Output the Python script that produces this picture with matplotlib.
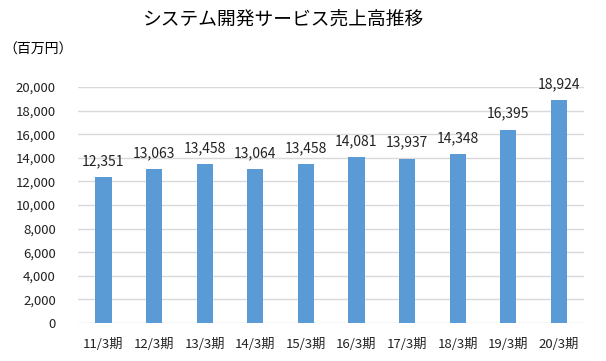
import matplotlib.pyplot as plt

plt.rcParams['font.family'] = ['Noto Sans CJK JP', 'DejaVu Sans']

# データ
labels = ['11/3期', '12/3期', '13/3期', '14/3期', '15/3期',
          '16/3期', '17/3期', '18/3期', '19/3期', '20/3期']
sales = [12351, 13063, 13458, 13064, 13458, 14081, 13937, 14348, 16395, 18924]

fig = plt.figure(figsize=(6.06, 3.61), dpi=100)
ax = fig.add_axes([0.129, 0.105, 0.835, 0.654])

x = range(len(labels))
ax.bar(x, sales, width=0.32, color='#5B9BD5', zorder=3)
for i, v in zip(x, sales):
    ax.text(i, v + 750, f'{v:,}', ha='center', va='bottom', fontsize=10, color='#222222')

ax.set_xlim(-0.5, len(labels) - 0.5)
ax.set_ylim(0, 20000)
ax.set_yticks(range(0, 20001, 2000))
ax.set_yticklabels([f'{t:,}' for t in range(0, 20001, 2000)])
ax.set_xticks(list(x))
ax.set_xticklabels(labels)
ax.grid(axis='y', color='#d9d9d9', linewidth=1, zorder=0)
for s in ['top', 'right', 'left', 'bottom']:
    ax.spines[s].set_visible(False)
ax.tick_params(axis='both', length=0, labelsize=9.5, colors='#222222')
ax.tick_params(axis='y', pad=16)
ax.tick_params(axis='x', pad=11)

fig.text(0.467, 0.948, 'システム開発サービス売上高推移', ha='center', va='center', fontsize=13.5)
fig.text(0.005, 0.862, '（百万円）', ha='left', va='center', fontsize=10)

fig.savefig('out.png', dpi=100)
